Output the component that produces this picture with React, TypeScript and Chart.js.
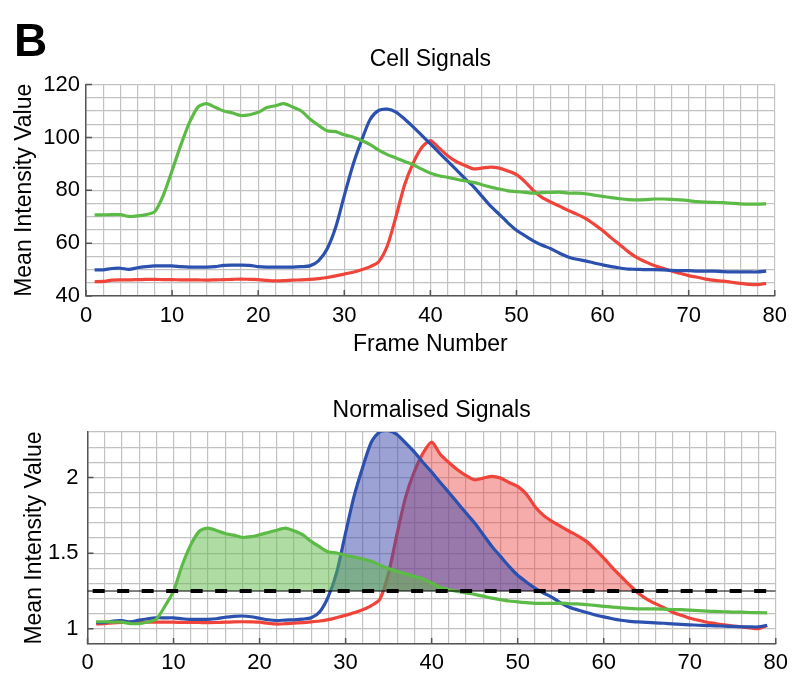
import React, { useEffect, useRef } from "react";
import { Chart, registerables } from "chart.js";

Chart.register(...registerables);

// ---------- data ----------
const frames = [
  1, 2, 3, 4, 5, 6, 7, 8, 9, 10, 11, 12, 13, 14, 15, 16, 17, 18, 19, 20,
  21, 22, 23, 24, 25, 26, 27, 28, 29, 30, 31, 32, 33, 34, 35, 36, 37, 38, 39, 40,
  41, 42, 43, 44, 45, 46, 47, 48, 49, 50, 51, 52, 53, 54, 55, 56, 57, 58, 59, 60,
  61, 62, 63, 64, 65, 66, 67, 68, 69, 70, 71, 72, 73, 74, 75, 76, 77, 78, 79,
];

const cellGreen = [
  70.7, 70.7, 70.8, 70.8, 70.1, 70.3, 70.8, 72.0, 78.3, 87.5,
  97.0, 105.5, 111.5, 112.8, 111.4, 110.0, 109.3, 108.3, 108.6, 109.5,
  111.3, 112.0, 112.8, 111.5, 110.0, 107.0, 104.6, 102.5, 102.2, 101.0,
  100.2, 98.8, 97.3, 95.2, 93.5, 92.2, 90.9, 89.7, 88.0, 86.5,
  85.5, 84.9, 84.2, 83.6, 83.0, 82.1, 81.2, 80.5, 79.8, 79.5,
  79.2, 78.9, 79.1, 79.2, 79.3, 78.9, 78.9, 78.7, 78.2, 77.7,
  77.2, 76.8, 76.5, 76.4, 76.5, 76.7, 76.7, 76.6, 76.4, 76.1,
  75.7, 75.5, 75.4, 75.3, 75.1, 74.9, 74.8, 74.8, 74.9,
];
const cellBlue = [
  49.9, 49.9, 50.4, 50.5, 50.1, 50.7, 51.1, 51.4, 51.4, 51.4,
  51.1, 50.9, 50.9, 50.9, 51.1, 51.6, 51.7, 51.7, 51.6, 51.1,
  50.9, 50.9, 50.9, 50.9, 51.1, 51.4, 53.3, 57.8, 66.0, 78.0,
  89.5, 98.8, 106.8, 110.2, 110.7, 109.6, 107.0, 104.0, 100.8, 97.6,
  94.3, 91.0, 87.8, 84.5, 81.4, 77.7, 74.0, 70.9, 67.7, 64.9,
  62.8, 60.8, 59.2, 57.9, 56.2, 54.8, 53.9, 53.3, 52.5, 51.8,
  51.1, 50.6, 50.2, 50.1, 50.0, 50.0, 49.9, 49.7, 49.6, 49.6,
  49.4, 49.4, 49.4, 49.2, 49.1, 49.1, 49.1, 49.1, 49.4,
];
const cellRed = [
  45.4, 45.5, 46.0, 46.1, 46.1, 46.2, 46.3, 46.3, 46.2, 46.2,
  46.1, 46.1, 46.1, 46.0, 46.1, 46.2, 46.3, 46.4, 46.3, 46.2,
  45.9, 45.7, 45.8, 46.0, 46.1, 46.3, 46.6, 47.0, 47.6, 48.3,
  49.0, 49.9, 51.1, 53.0, 59.0, 70.0, 82.0, 90.3, 96.2, 98.8,
  96.0, 93.1, 90.9, 89.4, 88.1, 88.4, 88.8, 88.4, 87.3, 85.9,
  83.2, 79.8, 77.2, 75.5, 74.0, 72.4, 71.0, 69.4, 67.2, 64.8,
  62.0, 59.4, 56.7, 54.5, 52.9, 51.5, 50.5, 49.5, 48.6, 47.7,
  47.1, 46.4, 45.9, 45.6, 45.2, 44.8, 44.4, 44.3, 44.8,
];

const normGreen = [
  1.047, 1.047, 1.045, 1.045, 1.035, 1.035, 1.045, 1.064, 1.15, 1.25,
  1.42, 1.555, 1.645, 1.666, 1.65, 1.63, 1.619, 1.604, 1.609, 1.622,
  1.637, 1.652, 1.666, 1.648, 1.622, 1.578, 1.541, 1.508, 1.501, 1.485,
  1.475, 1.462, 1.446, 1.42, 1.398, 1.38, 1.363, 1.347, 1.33, 1.303,
  1.274, 1.259, 1.247, 1.237, 1.228, 1.216, 1.203, 1.193, 1.184, 1.178,
  1.173, 1.168, 1.169, 1.168, 1.17, 1.166, 1.165, 1.16, 1.155, 1.149,
  1.144, 1.139, 1.135, 1.132, 1.132, 1.132, 1.13, 1.128, 1.127, 1.124,
  1.12, 1.117, 1.115, 1.113, 1.111, 1.11, 1.108, 1.107, 1.106,
];
const normBlue = [
  1.042, 1.042, 1.052, 1.054, 1.046, 1.058, 1.067, 1.073, 1.073, 1.073,
  1.067, 1.063, 1.063, 1.063, 1.067, 1.077, 1.083, 1.085, 1.08, 1.07,
  1.06, 1.055, 1.058, 1.06, 1.064, 1.073, 1.113, 1.215, 1.38, 1.635,
  1.88, 2.07, 2.235, 2.303, 2.31, 2.283, 2.227, 2.168, 2.099, 2.036,
  1.967, 1.901, 1.833, 1.765, 1.699, 1.622, 1.545, 1.479, 1.413, 1.354,
  1.31, 1.27, 1.237, 1.208, 1.172, 1.143, 1.125, 1.108, 1.092, 1.079,
  1.067, 1.057, 1.05, 1.046, 1.043, 1.04, 1.037, 1.033, 1.03, 1.027,
  1.024, 1.022, 1.02, 1.018, 1.016, 1.014, 1.013, 1.013, 1.024,
];
const normRed = [
  1.033, 1.035, 1.04, 1.042, 1.043, 1.044, 1.045, 1.045, 1.044, 1.044,
  1.043, 1.043, 1.042, 1.041, 1.042, 1.044, 1.046, 1.047, 1.046, 1.044,
  1.037, 1.032, 1.034, 1.038, 1.041, 1.046, 1.052, 1.061, 1.075, 1.09,
  1.106, 1.127, 1.154, 1.198, 1.369, 1.633, 1.875, 2.04, 2.161, 2.234,
  2.154, 2.099, 2.051, 2.013, 1.985, 1.996, 2.007, 1.996, 1.967, 1.941,
  1.89, 1.809, 1.75, 1.71, 1.677, 1.645, 1.614, 1.578, 1.525, 1.468,
  1.405, 1.347, 1.29, 1.237, 1.197, 1.167, 1.14, 1.11, 1.09, 1.07,
  1.057, 1.044, 1.035, 1.026, 1.019, 1.013, 1.007, 1.002, 1.022,
];

const thresholdLevel = 1.25;
const thresholdDashSpan = [0.6, 79];
const thresholdLineSpan = [0, 80];

const xMajorTicks = [0, 10, 20, 30, 40, 50, 60, 70, 80];
const topYMajorTicks = [40, 60, 80, 100, 120];
const bottomYMajorTicks = [1, 1.5, 2];

// ---------- styles ----------
const FONT = "'Liberation Sans', Arial, Helvetica, sans-serif";
const GREEN = "#5cba46";
const BLUE = "#2b50ad";
const RED = "#f0443a";
const GREEN_FILL = "rgba(93,186,71,0.5)";
const BLUE_FILL = "rgba(60,70,170,0.5)";
const RED_FILL = "rgba(238,70,70,0.45)";
const GRID = "#c2c2c2";
const AXIS = "#555555";

Chart.defaults.font.family = FONT;
Chart.defaults.color = "#000";

const innerTicks = {
  id: "innerTicks",
  beforeDatasetsDraw(chart: any, _args: any, opts: any) {
    const { ctx, chartArea } = chart;
    const xs = chart.scales.x;
    const ys = chart.scales.y;
    ctx.save();
    ctx.strokeStyle = AXIS;
    ctx.lineWidth = 1.5;
    ctx.beginPath();
    for (const v of opts.xMajor || []) {
      const px = xs.getPixelForValue(v);
      ctx.moveTo(px, chartArea.bottom);
      ctx.lineTo(px, chartArea.bottom - 6);
    }
    for (const v of opts.yMajor || []) {
      const py = ys.getPixelForValue(v);
      ctx.moveTo(chartArea.left, py);
      ctx.lineTo(chartArea.left + 6, py);
    }
    ctx.stroke();
    ctx.restore();
  },
};

const pts = (ys: number[]) => frames.map((f, i) => ({ x: f, y: ys[i] }));
const flat = (span: number[], level: number) => span.map((x) => ({ x, y: level }));

function lineDs(label: string, data: any[], color: string, fill: any = false) {
  return {
    label,
    data,
    borderColor: color,
    backgroundColor: color,
    borderWidth: 3.2,
    pointRadius: 0,
    tension: 0.25,
    fill,
  };
}

function topConfig(): any {
  return {
    type: "line",
    data: {
      datasets: [
        lineDs("Green", pts(cellGreen), GREEN),
        lineDs("Blue", pts(cellBlue), BLUE),
        lineDs("Red", pts(cellRed), RED),
      ],
    },
    options: {
      animation: false,
      responsive: false,
      layout: { padding: { top: 46, left: 0, right: 15, bottom: 8 } },
      plugins: {
        legend: { display: false },
        tooltip: { enabled: false },
        title: {
          display: true,
          fullSize: false,
          text: "Cell Signals",
          color: "#000",
          font: { size: 23, weight: "normal" },
          padding: { top: 0, bottom: 11 },
        },
        innerTicks: { xMajor: xMajorTicks, yMajor: topYMajorTicks },
      },
      scales: {
        x: {
          type: "linear",
          min: 0,
          max: 80,
          afterFit: (s: any) => {
            s.height = 66;
          },
          ticks: {
            stepSize: 2,
            maxTicksLimit: 100,
            autoSkip: false,
            maxRotation: 0,
            padding: 7,
            color: "#000",
            font: { size: 22 },
            callback: (v: any) => (Math.round(v) % 10 === 0 ? String(v) : ""),
          },
          grid: { color: GRID, lineWidth: 1.2, drawTicks: false },
          border: { display: true, color: AXIS, width: 1.5 },
          title: {
            display: true,
            text: "Frame Number",
            color: "#000",
            font: { size: 23 },
            padding: { top: 0, bottom: 4 },
          },
        },
        y: {
          type: "linear",
          min: 40,
          max: 120,
          afterFit: (s: any) => {
            s.width = 86;
          },
          ticks: {
            stepSize: 5,
            maxTicksLimit: 100,
            autoSkip: false,
            padding: 6,
            color: "#000",
            font: { size: 22 },
            callback: (v: any) => (Math.round(v) % 20 === 0 ? String(v) : ""),
          },
          grid: { color: GRID, lineWidth: 1.2, drawTicks: false },
          border: { display: true, color: AXIS, width: 1.5 },
          title: {
            display: true,
            text: "Mean Intensity Value",
            color: "#000",
            font: { size: 23 },
            padding: { top: 11, bottom: 0 },
          },
        },
      },
    },
    plugins: [innerTicks],
  };
}

function bottomConfig(): any {
  return {
    type: "line",
    data: {
      datasets: [
        {
          label: "Threshold",
          data: flat(thresholdDashSpan, thresholdLevel),
          borderColor: "#000",
          borderWidth: 4,
          borderDash: [12, 12.5],
          pointRadius: 0,
          fill: false,
        },
        {
          label: "Threshold line",
          data: flat(thresholdLineSpan, thresholdLevel),
          borderColor: "#000",
          borderWidth: 1,
          pointRadius: 0,
          fill: false,
        },
        lineDs("Green", pts(normGreen), GREEN, {
          target: { value: thresholdLevel },
          above: GREEN_FILL,
          below: "rgba(0,0,0,0)",
        }),
        lineDs("Blue", pts(normBlue), BLUE, {
          target: { value: thresholdLevel },
          above: BLUE_FILL,
          below: "rgba(0,0,0,0)",
        }),
        lineDs("Red", pts(normRed), RED, {
          target: { value: thresholdLevel },
          above: RED_FILL,
          below: "rgba(0,0,0,0)",
        }),
      ],
    },
    options: {
      animation: false,
      responsive: false,
      layout: { padding: { top: 27, left: 0, right: 14, bottom: 8 } },
      plugins: {
        legend: { display: false },
        tooltip: { enabled: false },
        title: {
          display: true,
          fullSize: false,
          text: "Normalised Signals",
          color: "#000",
          font: { size: 23, weight: "normal" },
          padding: { top: 0, bottom: 7.5 },
        },
        innerTicks: { xMajor: xMajorTicks, yMajor: bottomYMajorTicks },
      },
      scales: {
        x: {
          type: "linear",
          min: 0,
          max: 80,
          afterFit: (s: any) => {
            s.height = 34;
          },
          ticks: {
            stepSize: 2,
            maxTicksLimit: 100,
            autoSkip: false,
            maxRotation: 0,
            padding: 6,
            color: "#000",
            font: { size: 22 },
            callback: (v: any) => (Math.round(v) % 10 === 0 ? String(v) : ""),
          },
          grid: { color: GRID, lineWidth: 1.2, drawTicks: false },
          border: { display: true, color: AXIS, width: 1.5 },
        },
        y: {
          type: "linear",
          min: 0.9,
          max: 2.3,
          afterFit: (s: any) => {
            s.width = 87.5;
          },
          ticks: {
            stepSize: 0.1,
            maxTicksLimit: 100,
            autoSkip: false,
            padding: 9,
            color: "#000",
            font: { size: 22 },
            callback: (v: any) => {
              const h = v * 2;
              return Math.abs(h - Math.round(h)) < 1e-6 ? String(Math.round(v * 10) / 10) : "";
            },
          },
          grid: { color: GRID, lineWidth: 1.2, drawTicks: false },
          border: { display: true, color: AXIS, width: 1.5 },
          title: {
            display: true,
            text: "Mean Intensity Value",
            color: "#000",
            font: { size: 23 },
            padding: { top: 21, bottom: 0 },
          },
        },
      },
    },
    plugins: [innerTicks],
  };
}

function ChartCanvas({ config, top, height }: { config: () => any; top: number; height: number }) {
  const ref = useRef<HTMLCanvasElement | null>(null);
  useEffect(() => {
    if (!ref.current) return;
    const chart = new Chart(ref.current, config());
    return () => chart.destroy();
  }, [config]);
  return (
    <canvas
      ref={ref}
      width={794}
      height={height}
      style={{ position: "absolute", left: 0, top, width: 794, height }}
    />
  );
}

export default function App() {
  return (
    <div style={{ position: "absolute", left: 0, top: 0, width: 794, height: 686, background: "#fff" }}>
      <ChartCanvas config={topConfig} top={0} height={370} />
      <ChartCanvas config={bottomConfig} top={370} height={316} />
      <div
        style={{
          position: "absolute",
          left: 14,
          top: 17,
          fontFamily: FONT,
          fontWeight: "bold",
          fontSize: 46,
          lineHeight: "46px",
          color: "#000",
        }}
      >
        B
      </div>
    </div>
  );
}
